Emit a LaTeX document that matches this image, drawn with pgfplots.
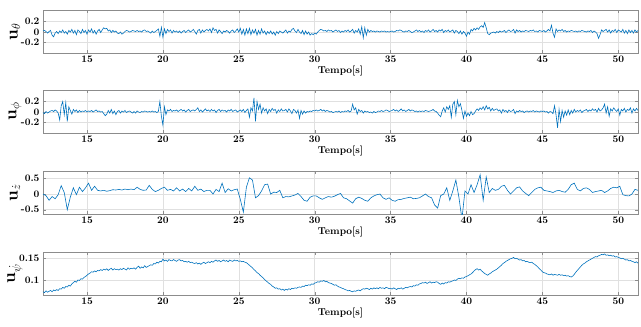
\documentclass[border=0pt]{standalone}
\usepackage{pgfplots}
\pgfplotsset{compat=1.18}
\usepackage{pgfplotstable}
\definecolor{mblue}{rgb}{0,0.447,0.741}

% u_theta, sampled every 0.1 s from t = 12.1 s
\pgfplotstableread[row sep=\\]{y\\
0.02\\ 0.03\\ 0.01\\ -0.02\\ 0.01\\ 0.03\\ -0.06\\ -0.09\\ -0.02\\ 0.01\\
-0.03\\ 0.02\\ -0.01\\ 0.04\\ -0.02\\ 0.01\\ -0.04\\ 0.03\\ 0.00\\ 0.05\\
-0.02\\ 0.03\\ -0.05\\ 0.04\\ 0.01\\ -0.03\\ 0.05\\ -0.01\\ 0.03\\ -0.04\\
0.04\\ 0.00\\ 0.06\\ -0.02\\ 0.03\\ -0.04\\ 0.02\\ 0.05\\ -0.01\\ 0.04\\
0.08\\ 0.06\\ 0.07\\ 0.02\\ 0.04\\ -0.01\\ 0.03\\ 0.00\\ 0.02\\ -0.02\\
-0.03\\ 0.00\\ -0.04\\ -0.02\\ 0.01\\ 0.03\\ 0.02\\ 0.00\\ 0.01\\ 0.03\\
0.02\\ 0.01\\ 0.03\\ 0.01\\ 0.02\\ 0.00\\ 0.03\\ 0.04\\ 0.01\\ 0.02\\
0.00\\ -0.02\\ 0.02\\ -0.01\\ 0.01\\ 0.03\\ 0.06\\ -0.08\\ 0.09\\ -0.10\\
0.06\\ -0.03\\ 0.05\\ 0.01\\ 0.04\\ -0.02\\ 0.03\\ 0.00\\ 0.02\\ -0.01\\
0.02\\ -0.02\\ 0.01\\ 0.03\\ -0.01\\ 0.02\\ 0.04\\ 0.00\\ 0.02\\ 0.05\\
0.01\\ -0.04\\ 0.03\\ 0.05\\ -0.02\\ 0.04\\ 0.00\\ 0.03\\ 0.05\\ 0.02\\
0.06\\ -0.01\\ 0.08\\ 0.03\\ 0.05\\ -0.02\\ 0.04\\ 0.01\\ -0.03\\ 0.02\\
0.00\\ 0.03\\ 0.01\\ -0.02\\ 0.02\\ 0.04\\ -0.01\\ 0.02\\ 0.06\\ 0.00\\
0.07\\ -0.04\\ 0.05\\ -0.06\\ 0.06\\ -0.03\\ 0.07\\ -0.05\\ 0.04\\ -0.02\\
0.05\\ -0.06\\ 0.03\\ -0.04\\ 0.06\\ -0.02\\ 0.02\\ -0.05\\ 0.01\\ -0.03\\
0.02\\ -0.04\\ 0.00\\ -0.06\\ 0.01\\ -0.03\\ 0.02\\ 0.00\\ -0.02\\ 0.01\\
0.04\\ -0.02\\ 0.02\\ 0.00\\ 0.05\\ 0.07\\ 0.02\\ -0.01\\ 0.05\\ 0.00\\
-0.03\\ 0.03\\ -0.05\\ 0.02\\ -0.04\\ 0.00\\ -0.06\\ -0.03\\ -0.05\\ -0.02\\
-0.04\\ 0.00\\ 0.03\\ 0.05\\ 0.04\\ 0.02\\ 0.03\\ 0.01\\ 0.04\\ 0.02\\
0.03\\ 0.00\\ 0.02\\ 0.04\\ 0.01\\ 0.03\\ -0.01\\ 0.02\\ 0.00\\ 0.03\\
0.01\\ 0.04\\ 0.00\\ 0.02\\ 0.05\\ -0.02\\ 0.03\\ 0.00\\ 0.06\\ -0.04\\
0.10\\ -0.11\\ 0.08\\ -0.06\\ 0.05\\ 0.00\\ 0.03\\ 0.01\\ 0.02\\ 0.00\\
0.02\\ 0.01\\ 0.00\\ 0.02\\ 0.01\\ 0.02\\ 0.00\\ 0.01\\ 0.00\\ 0.01\\
0.02\\ 0.00\\ 0.01\\ 0.03\\ 0.02\\ 0.04\\ 0.03\\ 0.01\\ 0.00\\ 0.02\\
0.01\\ 0.03\\ 0.01\\ -0.01\\ 0.00\\ 0.02\\ 0.04\\ 0.01\\ 0.03\\ 0.00\\
0.02\\ -0.01\\ 0.03\\ 0.01\\ 0.04\\ 0.00\\ 0.02\\ 0.05\\ 0.01\\ 0.03\\
0.00\\ 0.04\\ 0.02\\ 0.05\\ -0.01\\ 0.03\\ 0.01\\ 0.04\\ 0.00\\ 0.02\\
0.04\\ -0.02\\ 0.03\\ 0.01\\ -0.03\\ 0.02\\ -0.04\\ 0.01\\ -0.02\\ -0.08\\
0.00\\ -0.04\\ 0.05\\ 0.02\\ 0.07\\ 0.04\\ 0.08\\ 0.05\\ 0.10\\ 0.12\\
0.09\\ 0.18\\ 0.08\\ -0.03\\ -0.05\\ -0.02\\ -0.01\\ 0.00\\ -0.02\\ 0.01\\
-0.01\\ 0.02\\ 0.00\\ 0.01\\ 0.03\\ -0.01\\ 0.02\\ 0.04\\ 0.01\\ 0.02\\
0.05\\ -0.02\\ 0.04\\ 0.01\\ 0.03\\ 0.00\\ 0.02\\ 0.01\\ 0.03\\ 0.02\\
0.01\\ 0.03\\ 0.02\\ 0.04\\ 0.01\\ 0.02\\ 0.00\\ 0.03\\ 0.02\\ 0.01\\
0.03\\ 0.00\\ 0.02\\ 0.05\\ 0.02\\ 0.13\\ -0.02\\ -0.10\\ 0.06\\ 0.01\\
0.04\\ 0.02\\ 0.05\\ 0.01\\ 0.03\\ 0.00\\ 0.02\\ 0.01\\ 0.03\\ 0.02\\
0.01\\ 0.02\\ 0.00\\ 0.02\\ 0.01\\ 0.03\\ 0.02\\ 0.01\\ 0.00\\ 0.02\\
0.01\\ 0.03\\ -0.01\\ 0.02\\ 0.00\\ -0.03\\ -0.12\\ -0.05\\ 0.04\\ 0.01\\
0.03\\ 0.05\\ 0.00\\ 0.04\\ -0.02\\ 0.03\\ 0.01\\ 0.05\\ -0.01\\ 0.04\\
0.02\\ 0.00\\ 0.05\\ -0.02\\ 0.03\\ -0.03\\ 0.04\\ -0.01\\ 0.03\\ -0.02\\
0.04\\ 0.00\\ 0.03\\
}\uth

% u_phi, sampled every 0.1 s from t = 12.1 s
\pgfplotstableread[row sep=\\]{y\\
-0.01\\ -0.03\\ 0.01\\ -0.02\\ 0.00\\ 0.02\\ 0.03\\ 0.01\\ 0.04\\ 0.02\\
-0.02\\ -0.15\\ 0.12\\ 0.20\\ -0.05\\ 0.18\\ -0.18\\ 0.10\\ 0.03\\ -0.04\\
0.05\\ 0.01\\ 0.04\\ -0.01\\ 0.03\\ 0.00\\ 0.02\\ 0.01\\ 0.03\\ 0.00\\
0.02\\ 0.01\\ 0.03\\ 0.00\\ 0.02\\ 0.04\\ 0.01\\ 0.02\\ 0.00\\ 0.01\\
-0.03\\ -0.07\\ -0.04\\ 0.03\\ -0.02\\ 0.05\\ -0.03\\ 0.02\\ -0.05\\ 0.01\\
0.03\\ -0.02\\ 0.02\\ 0.00\\ 0.03\\ -0.01\\ 0.01\\ 0.02\\ 0.00\\ -0.02\\
0.01\\ -0.02\\ 0.02\\ 0.00\\ -0.01\\ 0.01\\ 0.00\\ 0.02\\ 0.01\\ 0.00\\
0.01\\ 0.00\\ 0.02\\ 0.00\\ 0.01\\ -0.01\\ 0.01\\ 0.20\\ -0.08\\ -0.25\\
0.10\\ -0.05\\ 0.04\\ 0.02\\ 0.05\\ 0.01\\ 0.03\\ 0.02\\ 0.04\\ 0.01\\
0.03\\ 0.05\\ 0.02\\ 0.04\\ 0.00\\ 0.03\\ 0.05\\ 0.01\\ 0.03\\ 0.04\\
0.02\\ 0.05\\ 0.08\\ 0.01\\ 0.04\\ 0.00\\ 0.03\\ 0.06\\ 0.02\\ 0.04\\
0.01\\ 0.05\\ 0.02\\ 0.04\\ -0.01\\ 0.03\\ 0.05\\ 0.01\\ 0.04\\ 0.02\\
0.03\\ 0.00\\ 0.04\\ 0.02\\ 0.05\\ 0.01\\ 0.03\\ 0.04\\ 0.00\\ 0.02\\
0.04\\ 0.01\\ 0.05\\ -0.01\\ 0.03\\ 0.06\\ -0.10\\ 0.08\\ 0.02\\ 0.27\\
-0.18\\ 0.20\\ 0.05\\ 0.15\\ -0.02\\ 0.08\\ 0.02\\ 0.06\\ -0.03\\ 0.05\\
0.01\\ 0.07\\ 0.03\\ 0.05\\ -0.02\\ 0.04\\ 0.01\\ 0.06\\ 0.02\\ 0.03\\
0.05\\ 0.00\\ 0.06\\ 0.02\\ -0.03\\ 0.05\\ 0.03\\ -0.02\\ 0.04\\ -0.12\\
0.03\\ -0.04\\ 0.02\\ -0.02\\ 0.01\\ 0.00\\ 0.02\\ 0.01\\ 0.03\\ 0.02\\
0.04\\ 0.02\\ 0.03\\ 0.05\\ 0.02\\ 0.04\\ 0.01\\ 0.03\\ 0.02\\ 0.00\\
0.01\\ -0.01\\ 0.00\\ 0.01\\ 0.00\\ 0.02\\ -0.01\\ 0.01\\ 0.00\\ 0.02\\
0.01\\ 0.03\\ 0.00\\ 0.02\\ 0.15\\ 0.04\\ 0.08\\ -0.04\\ 0.05\\ 0.01\\
0.03\\ -0.02\\ 0.02\\ 0.00\\ 0.01\\ -0.01\\ 0.00\\ -0.02\\ 0.01\\ -0.01\\
0.00\\ 0.02\\ 0.01\\ 0.03\\ 0.01\\ 0.02\\ 0.04\\ 0.03\\ 0.01\\ 0.02\\
0.03\\ 0.05\\ 0.02\\ 0.04\\ 0.01\\ 0.03\\ 0.06\\ 0.02\\ 0.04\\ 0.01\\
0.03\\ 0.05\\ 0.02\\ 0.04\\ 0.03\\ 0.01\\ 0.02\\ 0.00\\ 0.02\\ 0.01\\
0.02\\ 0.01\\ 0.03\\ 0.02\\ 0.01\\ 0.02\\ 0.03\\ 0.05\\ 0.02\\ 0.01\\
-0.02\\ -0.06\\ -0.09\\ 0.02\\ 0.08\\ 0.00\\ 0.10\\ 0.05\\ 0.12\\ -0.10\\
0.15\\ 0.20\\ -0.05\\ 0.22\\ 0.10\\ 0.16\\ 0.03\\ -0.12\\ 0.02\\ -0.08\\
-0.02\\ -0.07\\ 0.01\\ -0.05\\ -0.03\\ 0.02\\ 0.06\\ 0.03\\ 0.08\\ 0.05\\
0.10\\ 0.04\\ 0.12\\ 0.06\\ 0.09\\ 0.02\\ 0.07\\ 0.03\\ 0.05\\ 0.06\\
0.02\\ 0.04\\ -0.02\\ 0.05\\ 0.01\\ 0.03\\ -0.01\\ 0.04\\ 0.01\\ 0.02\\
0.05\\ -0.03\\ 0.02\\ 0.00\\ 0.03\\ 0.01\\ 0.02\\ -0.01\\ 0.01\\ 0.02\\
0.00\\ 0.02\\ 0.01\\ 0.03\\ 0.00\\ 0.02\\ 0.01\\ 0.00\\ 0.02\\ 0.01\\
0.02\\ 0.00\\ 0.01\\ -0.02\\ 0.01\\ 0.00\\ -0.03\\ 0.12\\ -0.05\\ -0.30\\
0.05\\ -0.18\\ 0.03\\ -0.10\\ 0.02\\ -0.06\\ 0.04\\ -0.05\\ 0.03\\ -0.02\\
0.05\\ 0.00\\ 0.03\\ 0.01\\ 0.04\\ -0.01\\ 0.02\\ 0.03\\ 0.05\\ 0.01\\
0.04\\ 0.02\\ 0.06\\ 0.03\\ 0.05\\ 0.00\\ 0.07\\ 0.02\\ 0.04\\ 0.08\\
0.15\\ -0.02\\ 0.10\\ -0.08\\ 0.06\\ 0.02\\ 0.08\\ 0.04\\ 0.01\\ 0.06\\
-0.06\\ 0.05\\ 0.02\\ 0.07\\ 0.00\\ 0.05\\ 0.03\\ 0.08\\ -0.02\\ 0.06\\
0.02\\ 0.07\\ 0.03\\
}\uph

% u_zdot, sampled every 0.2 s from t = 12.1 s
\pgfplotstableread[row sep=\\]{y\\
0.00\\ -0.05\\ -0.20\\ -0.08\\ -0.15\\
-0.02\\ 0.27\\ 0.05\\ -0.50\\ -0.10\\
0.20\\ -0.02\\ 0.22\\ 0.08\\ 0.20\\
0.35\\ 0.12\\ 0.25\\ 0.12\\ 0.10\\
0.12\\ 0.09\\ 0.11\\ 0.14\\ 0.13\\
0.15\\ 0.13\\ 0.16\\ 0.14\\ 0.16\\
0.14\\ 0.22\\ 0.15\\ 0.12\\ 0.13\\
0.28\\ 0.15\\ 0.08\\ 0.12\\ 0.18\\
0.22\\ 0.12\\ 0.15\\ 0.10\\ 0.20\\
0.10\\ 0.16\\ 0.08\\ 0.18\\ 0.10\\
0.25\\ 0.12\\ 0.16\\ 0.08\\ 0.12\\
0.12\\ 0.00\\ 0.15\\ 0.08\\ 0.35\\
0.05\\ 0.17\\ 0.10\\ 0.14\\ 0.16\\
-0.17\\ -0.58\\ 0.22\\ 0.52\\ 0.45\\
-0.12\\ -0.05\\ 0.10\\ 0.30\\ 0.32\\
0.00\\ 0.06\\ 0.05\\ 0.12\\ -0.12\\
-0.08\\ -0.09\\ -0.06\\ -0.03\\ 0.02\\
-0.08\\ -0.20\\ -0.23\\ -0.10\\ -0.06\\
-0.06\\ -0.12\\ -0.17\\ -0.12\\ -0.08\\
-0.10\\ -0.07\\ -0.02\\ 0.02\\ -0.12\\
-0.15\\ -0.22\\ -0.29\\ -0.15\\ -0.10\\
-0.14\\ -0.20\\ -0.23\\ -0.12\\ -0.06\\
-0.02\\ 0.00\\ -0.12\\ -0.17\\ -0.12\\
-0.20\\ -0.23\\ -0.18\\ -0.17\\ -0.14\\
-0.12\\ -0.10\\ -0.15\\ -0.14\\ -0.12\\
-0.06\\ 0.00\\ -0.08\\ -0.12\\ -0.35\\
-0.45\\ -0.05\\ 0.00\\ 0.20\\ -0.20\\
0.10\\ 0.45\\ -0.10\\ -0.80\\ 0.10\\
0.00\\ 0.30\\ 0.05\\ 0.30\\ 0.62\\
-0.20\\ 0.55\\ 0.05\\ 0.18\\ 0.12\\
0.15\\ 0.25\\ 0.28\\ 0.12\\ 0.00\\
0.10\\ 0.20\\ 0.23\\ 0.10\\ 0.02\\
-0.05\\ 0.05\\ 0.15\\ 0.20\\ 0.22\\
0.12\\ 0.10\\ 0.08\\ 0.05\\ 0.10\\
0.12\\ 0.08\\ 0.06\\ 0.15\\ 0.30\\
0.35\\ 0.15\\ 0.10\\ 0.18\\ 0.20\\
0.15\\ 0.05\\ 0.08\\ 0.10\\ 0.12\\
0.05\\ 0.10\\ 0.18\\ 0.22\\ 0.20\\
0.25\\ -0.02\\ -0.05\\ -0.06\\ 0.00\\
0.15\\ 0.12\\
}\uzd

% u_psidot, sampled every 0.1 s from t = 12.1 s
\pgfplotstableread[row sep=\\]{y\\
0.073\\ 0.071\\ 0.075\\ 0.072\\ 0.074\\ 0.076\\ 0.073\\ 0.077\\ 0.075\\ 0.078\\
0.076\\ 0.080\\ 0.079\\ 0.083\\ 0.081\\ 0.085\\ 0.084\\ 0.088\\ 0.086\\ 0.091\\
0.094\\ 0.097\\ 0.095\\ 0.100\\ 0.099\\ 0.103\\ 0.102\\ 0.106\\ 0.108\\ 0.111\\
0.114\\ 0.116\\ 0.119\\ 0.118\\ 0.121\\ 0.119\\ 0.122\\ 0.121\\ 0.124\\ 0.122\\
0.125\\ 0.123\\ 0.126\\ 0.122\\ 0.125\\ 0.127\\ 0.123\\ 0.126\\ 0.124\\ 0.125\\
0.123\\ 0.126\\ 0.124\\ 0.127\\ 0.125\\ 0.123\\ 0.128\\ 0.125\\ 0.127\\ 0.126\\
0.128\\ 0.125\\ 0.129\\ 0.132\\ 0.127\\ 0.130\\ 0.128\\ 0.133\\ 0.129\\ 0.131\\
0.133\\ 0.135\\ 0.134\\ 0.138\\ 0.137\\ 0.141\\ 0.139\\ 0.143\\ 0.142\\ 0.148\\
0.144\\ 0.146\\ 0.143\\ 0.147\\ 0.145\\ 0.144\\ 0.147\\ 0.145\\ 0.143\\ 0.146\\
0.147\\ 0.144\\ 0.145\\ 0.142\\ 0.143\\ 0.141\\ 0.143\\ 0.140\\ 0.141\\ 0.139\\
0.138\\ 0.140\\ 0.137\\ 0.139\\ 0.136\\ 0.139\\ 0.141\\ 0.138\\ 0.140\\ 0.142\\
0.140\\ 0.143\\ 0.141\\ 0.144\\ 0.146\\ 0.143\\ 0.145\\ 0.142\\ 0.144\\ 0.146\\
0.143\\ 0.145\\ 0.142\\ 0.146\\ 0.144\\ 0.143\\ 0.146\\ 0.144\\ 0.145\\ 0.143\\
0.144\\ 0.142\\ 0.143\\ 0.141\\ 0.140\\ 0.137\\ 0.134\\ 0.131\\ 0.128\\ 0.124\\
0.121\\ 0.117\\ 0.115\\ 0.111\\ 0.108\\ 0.105\\ 0.101\\ 0.098\\ 0.095\\ 0.092\\
0.090\\ 0.086\\ 0.084\\ 0.081\\ 0.082\\ 0.079\\ 0.080\\ 0.077\\ 0.079\\ 0.076\\
0.079\\ 0.077\\ 0.080\\ 0.078\\ 0.081\\ 0.080\\ 0.082\\ 0.081\\ 0.083\\ 0.084\\
0.083\\ 0.086\\ 0.085\\ 0.088\\ 0.087\\ 0.089\\ 0.088\\ 0.091\\ 0.090\\ 0.093\\
0.094\\ 0.096\\ 0.095\\ 0.098\\ 0.097\\ 0.099\\ 0.096\\ 0.097\\ 0.094\\ 0.093\\
0.092\\ 0.090\\ 0.088\\ 0.089\\ 0.086\\ 0.084\\ 0.083\\ 0.081\\ 0.080\\ 0.078\\
0.077\\ 0.075\\ 0.076\\ 0.074\\ 0.073\\ 0.075\\ 0.074\\ 0.076\\ 0.077\\ 0.075\\
0.078\\ 0.080\\ 0.079\\ 0.081\\ 0.080\\ 0.078\\ 0.081\\ 0.079\\ 0.082\\ 0.080\\
0.082\\ 0.080\\ 0.083\\ 0.081\\ 0.082\\ 0.080\\ 0.083\\ 0.082\\ 0.080\\ 0.081\\
0.079\\ 0.082\\ 0.080\\ 0.078\\ 0.081\\ 0.080\\ 0.082\\ 0.079\\ 0.081\\ 0.083\\
0.082\\ 0.084\\ 0.085\\ 0.084\\ 0.087\\ 0.086\\ 0.089\\ 0.088\\ 0.091\\ 0.092\\
0.094\\ 0.093\\ 0.095\\ 0.092\\ 0.094\\ 0.096\\ 0.093\\ 0.095\\ 0.094\\ 0.096\\
0.095\\ 0.092\\ 0.090\\ 0.093\\ 0.091\\ 0.094\\ 0.093\\ 0.096\\ 0.095\\ 0.097\\
0.098\\ 0.100\\ 0.099\\ 0.102\\ 0.104\\ 0.103\\ 0.105\\ 0.104\\ 0.107\\ 0.108\\
0.110\\ 0.112\\ 0.114\\ 0.117\\ 0.121\\ 0.124\\ 0.126\\ 0.123\\ 0.125\\ 0.121\\
0.118\\ 0.115\\ 0.113\\ 0.111\\ 0.114\\ 0.116\\ 0.119\\ 0.121\\ 0.123\\ 0.125\\
0.128\\ 0.131\\ 0.134\\ 0.138\\ 0.140\\ 0.143\\ 0.145\\ 0.147\\ 0.149\\ 0.150\\
0.152\\ 0.149\\ 0.150\\ 0.148\\ 0.146\\ 0.147\\ 0.144\\ 0.145\\ 0.142\\ 0.143\\
0.141\\ 0.140\\ 0.141\\ 0.138\\ 0.136\\ 0.133\\ 0.130\\ 0.126\\ 0.123\\ 0.119\\
0.117\\ 0.116\\ 0.114\\ 0.113\\ 0.112\\ 0.114\\ 0.111\\ 0.113\\ 0.112\\ 0.111\\
0.113\\ 0.111\\ 0.112\\ 0.110\\ 0.111\\ 0.109\\ 0.110\\ 0.108\\ 0.107\\ 0.109\\
0.113\\ 0.118\\ 0.122\\ 0.126\\ 0.130\\ 0.134\\ 0.137\\ 0.139\\ 0.142\\ 0.144\\
0.146\\ 0.148\\ 0.150\\ 0.152\\ 0.154\\ 0.153\\ 0.156\\ 0.157\\ 0.159\\ 0.158\\
0.160\\ 0.157\\ 0.158\\ 0.156\\ 0.157\\ 0.155\\ 0.156\\ 0.153\\ 0.154\\ 0.152\\
0.151\\ 0.149\\ 0.150\\ 0.148\\ 0.146\\ 0.147\\ 0.144\\ 0.145\\ 0.143\\ 0.142\\
0.140\\ 0.142\\ 0.139\\
}\upd

\pgfplotsset{
  panel/.style={
    scale only axis,
    width=595pt, height=43pt,
    anchor=north west,
    xmin=12.1, xmax=51.3,
    xtick={15,20,...,50},
    xlabel={Tempo[s]},
    grid=major,
    major grid style={black!12, line width=0.4pt},
    axis line style={black!45},
    tick style={black!45},
    tick align=inside,
    major tick length=3pt,
    /pgf/number format/assume math mode=true,
    /pgf/number format/fixed,
    /pgf/number format/precision=2,
    scaled y ticks=false,
    tick label style={font=\fontsize{10}{12}\selectfont\bfseries},
    xticklabel style={yshift=1pt},
    xlabel style={font=\fontsize{10}{12}\selectfont\bfseries, yshift=3pt},
    ylabel style={font=\LARGE, at={(axis description cs:-0.047,0.5)}, anchor=center},
  },
  signal/.style={mblue, line width=0.6pt, mark=none},
}

\begin{document}
\begin{tikzpicture}
\useasboundingbox (0,0) rectangle (641pt,-327pt);

\begin{axis}[panel, at={(43pt,-10pt)},
  ymin=-0.4, ymax=0.42, ytick={-0.2,0,0.2},
  ylabel={$\mathbf{u}_{\theta}$}]
  \addplot[signal] table[x expr=12.1+0.1*\coordindex, y index=0] {\uth};
\end{axis}

\begin{axis}[panel, at={(43pt,-90pt)},
  ymin=-0.4, ymax=0.42, ytick={-0.2,0,0.2},
  ylabel={$\mathbf{u}_{\phi}$}]
  \addplot[signal] table[x expr=12.1+0.1*\coordindex, y index=0] {\uph};
\end{axis}

\begin{axis}[panel, at={(43pt,-171pt)},
  ymin=-0.64, ymax=0.74, ytick={-0.5,0,0.5},
  ylabel={$\mathbf{u}_{\dot{z}}$}]
  \addplot[signal] table[x expr=12.1+0.2*\coordindex, y index=0] {\uzd};
\end{axis}

\begin{axis}[panel, at={(43pt,-252pt)},
  ymin=0.0655, ymax=0.1645, ytick={0.1,0.15},
  ylabel={$\mathbf{u}_{\dot{\psi}}$}]
  \addplot[signal] table[x expr=12.1+0.1*\coordindex, y index=0] {\upd};
\end{axis}
\end{tikzpicture}
\end{document}
